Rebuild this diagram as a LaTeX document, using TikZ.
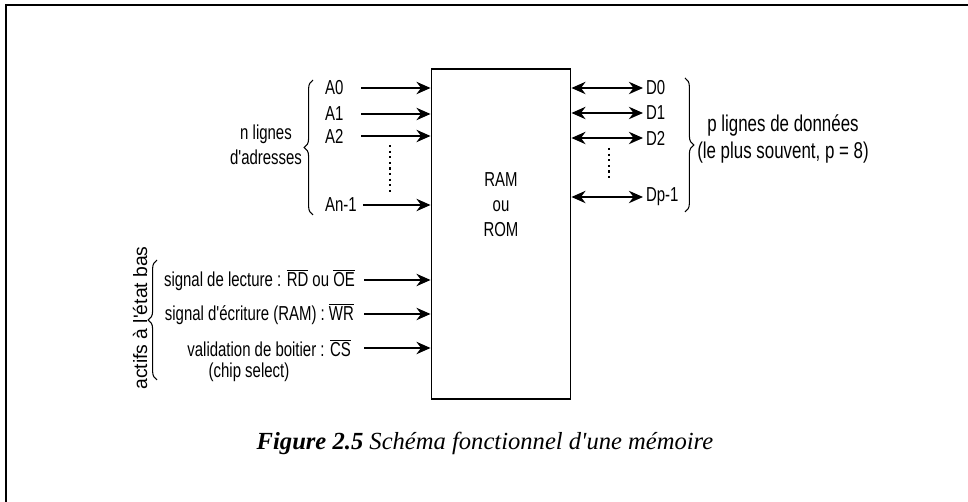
\documentclass[tikz,border=0pt]{standalone}
\usepackage{fontspec}
\setmainfont[Ligatures=TeXOff]{Liberation Serif}
\newfontfamily\diagfont[FakeStretch=0.74,Ligatures=TeXOff]{Liberation Sans}
\newfontfamily\widefont[Ligatures=TeXOff]{Liberation Sans}
\usetikzlibrary{arrows.meta, decorations.pathreplacing}

\begin{document}
\begin{tikzpicture}[x=0.02cm,y=-0.02cm,
  lbl/.style={font=\diagfont\fontsize{11.5}{14.2}\selectfont,inner sep=1pt,align=center},
  mem/.style={draw,line width=1.1pt,minimum width=2.78cm,minimum height=6.6cm},
  arr/.style={-{Stealth[length=8pt,width=7pt]},line width=1.2pt},
  biarr/.style={{Stealth[length=8pt,width=7pt]}-{Stealth[length=8pt,width=7pt]},line width=1.2pt},
  brc/.style={decorate,decoration={brace,amplitude=5pt},line width=0.6pt},
  dots/.style={dotted,line width=1.2pt}
]
\useasboundingbox (0,0) rectangle (968,502);
\draw[line width=1.2pt] (6,502) -- (6,5) -- (968,5);

% memory block
\node[mem] (ram) at (501,234) {};
\node[lbl] (ramtxt) at (501,205) {RAM\\ou\\ROM};

% address lines
\coordinate (inA) at (361,0);
\node[lbl,anchor=west] (a0) at (323,88)  {A0};
\node[lbl,anchor=west] (a1) at (323,114) {A1};
\node[lbl,anchor=west] (a2) at (323,136) {A2};
\node[lbl,anchor=west] (an) at (323,205) {An-1};
\draw[arr] (a0 -| inA) -- (a0 -| ram.west);
\draw[arr] (a1 -| inA) -- (a1 -| ram.west);
\draw[arr] (a2 -| inA) -- (a2 -| ram.west);
\draw[arr] (an.east) ++(4,0) coordinate (anS) -- (anS -| ram.west);
\draw[dots] (390,145) -- (390,195);
\draw[brc] (313,215) -- (313,80);
\node[lbl] (adr) at (266,145) {n lignes\\d'adresses};

% data lines
\coordinate (outD) at (643,0);
\node[lbl,anchor=west] (d0) at (644,88)  {D0};
\node[lbl,anchor=west] (d1) at (644,113) {D1};
\node[lbl,anchor=west] (d2) at (644,138) {D2};
\node[lbl,anchor=west] (dp) at (644,197) {Dp-1};
\draw[biarr] (d0 -| ram.east) -- (d0 -| outD);
\draw[biarr] (d1 -| ram.east) -- (d1 -| outD);
\draw[biarr] (d2 -| ram.east) -- (d2 -| outD);
\draw[biarr] (dp -| ram.east) -- (dp -| outD);
\draw[dots] (609,148) -- (609,180);
\draw[brc] (685,78) -- (685,212);
\node[lbl,font=\diagfont\fontsize{13}{15.4}\selectfont] (dat) at (783,139) {p lignes de donn\'ees\\(le plus souvent, p = 8)};

% control lines
\coordinate (inC) at (364,0);
\node[lbl,anchor=east] (rd) at (357,280) {signal de lecture : $\overline{\hbox{RD}}$ ou $\overline{\hbox{OE}}$};
\node[lbl,anchor=east] (wr) at (356,314) {signal d'\'ecriture (RAM) : $\overline{\hbox{WR}}$};
\node[lbl,anchor=east] (cs) at (353,348) {validation de boitier : $\overline{\hbox{CS}}$};
\node[lbl] (chip) at (249,372) {(chip select)};
\draw[arr] (rd -| inC) -- (rd -| ram.west);
\draw[arr] (wr -| inC) -- (wr -| ram.west);
\draw[arr] (cs -| inC) -- (cs -| ram.west);
\draw[brc] (157,380) -- (157,260);
\node[lbl,rotate=90,font=\widefont\fontsize{11}{13}\selectfont] (bas) at (140,318) {actifs \`a l'\'etat bas};

\node (cap) at (485,443) {\fontsize{14}{16}\selectfont\textbf{\textit{Figure 2.5}} \textit{Sch\'ema fonctionnel d'une m\'emoire}};
\end{tikzpicture}
\end{document}
